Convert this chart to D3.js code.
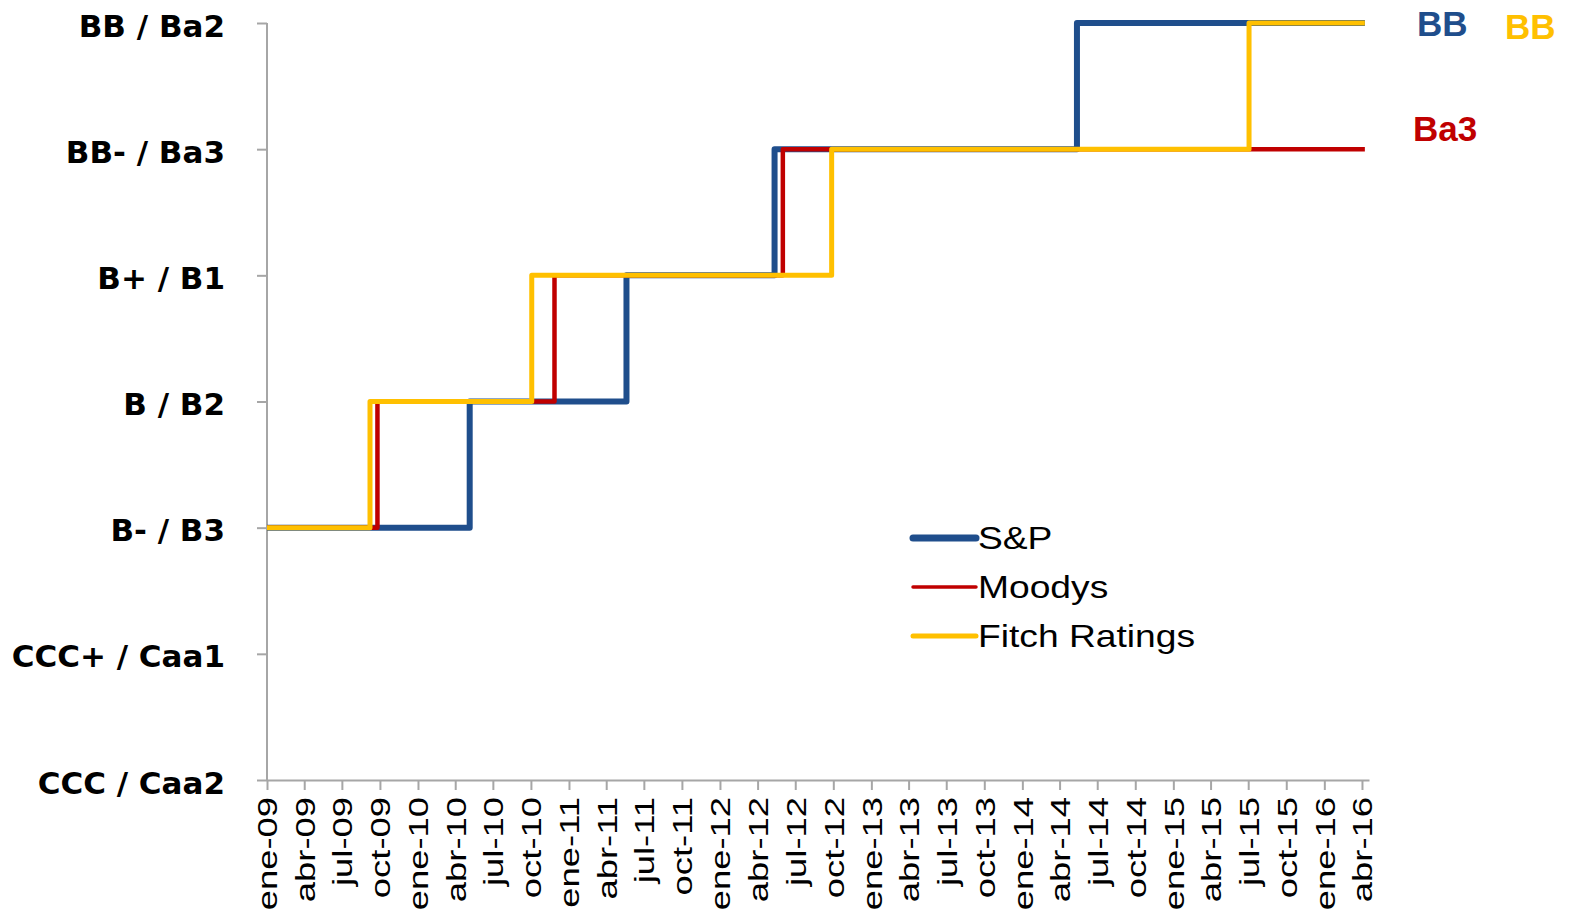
<!DOCTYPE html>
<html>
<head>
<meta charset="utf-8">
<script src="https://cdn.jsdelivr.net/npm/d3@7"></script>
<style>
  body { margin: 0; background: #fff; }
  .axis path, .axis line { stroke: #a6a6a6; stroke-width: 2; }
</style>
</head>
<body>
<div id="chart"></div>
<script>
// Escala de calificaciones (de menor a mayor)
const ratingLevels = ["CCC / Caa2", "CCC+ / Caa1", "B- / B3", "B / B2", "B+ / B1", "BB- / Ba3", "BB / Ba2"];

// Meses en castellano para las etiquetas del eje X
const monthAbbr = ["ene", "feb", "mar", "abr", "may", "jun", "jul", "ago", "sep", "oct", "nov", "dic"];

// Fechas de cambio de calificación y nivel de cada agencia
const spDates = ["2009-01-01", "2010-05-06", "2011-05-20", "2012-05-12", "2014-05-13", "2016-04-08"];
const spRatings = ["B- / B3", "B / B2", "B+ / B1", "BB- / Ba3", "BB / Ba2", "BB / Ba2"];

const moodysDates = ["2009-01-01", "2009-09-25", "2010-11-27", "2012-06-01", "2016-04-08"];
const moodysRatings = ["B- / B3", "B / B2", "B+ / B1", "BB- / Ba3", "BB- / Ba3"];

const fitchDates = ["2009-01-01", "2009-09-07", "2010-10-03", "2012-09-27", "2015-07-03", "2016-04-08"];
const fitchRatings = ["B- / B3", "B / B2", "B+ / B1", "BB- / Ba3", "BB / Ba2", "BB / Ba2"];

// Etiquetas finales a la derecha
const endLabels = ["BB", "BB", "Ba3"];

const parse = d3.timeParse("%Y-%m-%d");

const series = [
  { name: "S&P", color: "#1f4e8c", width: 6, legendWidth: 7,
    values: spDates.map((d, i) => ({ date: parse(d), rating: spRatings[i] })) },
  { name: "Moodys", color: "#c00000", width: 4.5, legendWidth: 3.5,
    values: moodysDates.map((d, i) => ({ date: parse(d), rating: moodysRatings[i] })) },
  { name: "Fitch Ratings", color: "#ffc000", width: 5, legendWidth: 5,
    values: fitchDates.map((d, i) => ({ date: parse(d), rating: fitchRatings[i] })) }
];

const width = 1573, height = 913;

const svg = d3.select("#chart").append("svg")
  .attr("width", width)
  .attr("height", height);

// Escalas
const x = d3.scaleTime()
  .domain([parse("2009-01-01"), parse("2016-04-18")])
  .range([267, 1369]);

const y = d3.scalePoint()
  .domain(ratingLevels)
  .range([780, 23]);

// Eje Y
const yAxis = d3.axisLeft(y).tickSize(10).tickSizeOuter(0).tickPadding(32);
const yG = svg.append("g")
  .attr("class", "axis")
  .attr("transform", "translate(267,0)")
  .call(yAxis);
yG.select(".domain").attr("d", `M0,${y.range()[1]}V${y.range()[0]}`);
yG.selectAll("text")
  .attr("font-family", "DejaVu Sans")
  .attr("font-weight", "bold")
  .attr("font-size", 31)
  .attr("fill", "#000")
  .attr("dy", "0.42em");

// Eje X
const xAxis = d3.axisBottom(x)
  .ticks(d3.timeMonth.every(3))
  .tickFormat(d => monthAbbr[d.getMonth()] + "-" + d3.timeFormat("%y")(d))
  .tickSize(10)
  .tickSizeOuter(0);
const xG = svg.append("g")
  .attr("class", "axis")
  .attr("transform", "translate(0,780)")
  .call(xAxis);
xG.selectAll("text")
  .attr("font-family", "Liberation Sans, Arial")
  .attr("font-size", 28)
  .attr("fill", "#000")
  .attr("text-anchor", "end")
  .attr("dy", "0.35em")
  .attr("x", 0)
  .attr("y", 0)
  .attr("transform", "translate(0,17) rotate(-90) scale(1.3,1)");

// Líneas escalonadas
const line = d3.line()
  .x(d => x(d.date))
  .y(d => y(d.rating))
  .curve(d3.curveStepAfter);

svg.selectAll(".serie")
  .data(series)
  .enter()
  .append("path")
  .attr("class", "serie")
  .attr("d", d => line(d.values))
  .attr("fill", "none")
  .attr("stroke", d => d.color)
  .attr("stroke-width", d => d.width)
  .attr("stroke-linejoin", "round");

// Etiquetas de calificación final
const lastOf = s => s.values[s.values.length - 1];
const endPos = [
  { s: series[0], dx: 1417, dy: 1 },
  { s: series[2], dx: 1505, dy: 4 },
  { s: series[1], dx: 1413, dy: -20 }
];
svg.selectAll(".end-label")
  .data(endPos)
  .enter()
  .append("text")
  .attr("class", "end-label")
  .attr("x", d => d.dx)
  .attr("y", d => y(lastOf(d.s).rating) + d.dy)
  .attr("dy", "0.35em")
  .attr("font-family", "Liberation Sans, Arial")
  .attr("font-weight", "bold")
  .attr("font-size", 35)
  .attr("fill", d => d.s.color)
  .text((d, i) => endLabels[i]);

// Leyenda
const legend = svg.append("g").attr("transform", "translate(910,538)");
const items = legend.selectAll("g")
  .data(series)
  .enter()
  .append("g")
  .attr("transform", (d, i) => `translate(0,${i * 49})`);
items.append("line")
  .attr("x1", 3).attr("x2", 66)
  .attr("stroke", d => d.color)
  .attr("stroke-width", d => d.legendWidth)
  .attr("stroke-linecap", "round");
items.append("text")
  .attr("x", 0)
  .attr("dy", "0.35em")
  .attr("transform", "translate(68,0) scale(1.2,1)")
  .attr("font-family", "Liberation Sans, Arial")
  .attr("font-size", 31)
  .attr("fill", "#000")
  .text(d => d.name);
</script>
</body>
</html>
